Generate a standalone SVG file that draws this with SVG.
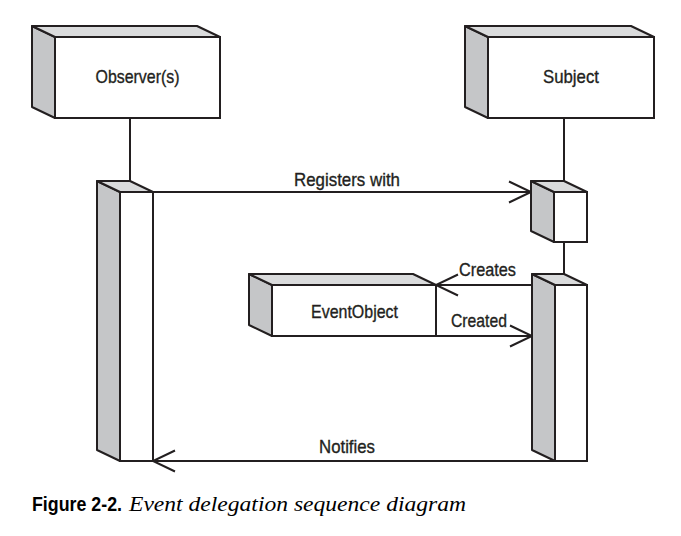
<svg xmlns="http://www.w3.org/2000/svg" width="681" height="536" viewBox="0 0 681 536">
  <style>
    .side { fill: #c5c6c8; stroke: #231f20; stroke-width: 2; stroke-linejoin: round; }
    .top { fill: #dadbdc; stroke: #231f20; stroke-width: 2; stroke-linejoin: round; }
    .front { fill: #ffffff; stroke: #231f20; stroke-width: 2; }
    .line { fill: none; stroke: #231f20; stroke-width: 2; }
    .lbl { font-family: "Liberation Sans", Arial, sans-serif; font-size: 19px; fill: #231f20; stroke: #231f20; stroke-width: 0.35; }
    .cap { font-family: "Liberation Sans", Arial, sans-serif; font-size: 20px; font-weight: bold; fill: #000; }
    .capi { font-family: "Liberation Serif", "Times New Roman", serif; font-size: 21px; font-style: italic; fill: #000; }
  </style>
  <defs>
    <marker id="open" viewBox="0 0 24 24" refX="23" refY="12" markerWidth="24" markerHeight="24" markerUnits="userSpaceOnUse" orient="auto" overflow="visible">
      <path d="M1,1.5 L23,12 L1,22.5" fill="none" stroke="#231f20" stroke-width="2"/>
    </marker>
  </defs>
  <rect x="0" y="0" width="681" height="536" fill="#ffffff"/>

  <g id="lifelines">
    <line class="line" x1="130" y1="118" x2="130" y2="181"/>
    <line class="line" x1="564" y1="118" x2="564" y2="181"/>
    <line class="line" x1="564" y1="242" x2="564" y2="274"/>
  </g>

  <g id="connectors">
    <line class="line" x1="153" y1="192" x2="531" y2="192" marker-end="url(#open)"/>
    <line class="line" x1="532" y1="285" x2="436" y2="285" marker-end="url(#open)"/>
    <line class="line" x1="436" y1="336" x2="532" y2="336" marker-end="url(#open)"/>
    <line class="line" x1="555" y1="461" x2="153" y2="461" marker-end="url(#open)"/>
    <text class="lbl" x="294" y="186" textLength="106" lengthAdjust="spacingAndGlyphs">Registers with</text>
    <text class="lbl" x="459" y="276" textLength="57" lengthAdjust="spacingAndGlyphs">Creates</text>
    <text class="lbl" x="451" y="327" textLength="56" lengthAdjust="spacingAndGlyphs">Created</text>
    <text class="lbl" x="319" y="453" textLength="56" lengthAdjust="spacingAndGlyphs">Notifies</text>
  </g>

  <g id="observer">
    <polygon class="side" points="32,26 55,37 55,118 32,107"/>
    <polygon class="top" points="32,26 197,26 220,37 55,37"/>
    <rect class="front" x="55" y="37" width="165" height="81"/>
    <text class="lbl" x="137.5" y="83" text-anchor="middle" textLength="84" lengthAdjust="spacingAndGlyphs">Observer(s)</text>
  </g>

  <g id="subject">
    <polygon class="side" points="465,26 488,37 488,118 465,107"/>
    <polygon class="top" points="465,26 631,26 654,37 488,37"/>
    <rect class="front" x="488" y="37" width="166" height="81"/>
    <text class="lbl" x="571" y="83" text-anchor="middle" textLength="56" lengthAdjust="spacingAndGlyphs">Subject</text>
  </g>

  <g id="observer-activation">
    <polygon class="side" points="97,181 120,192 120,461 97,450"/>
    <polygon class="top" points="97,181 130,181 153,192 120,192"/>
    <rect class="front" x="120" y="192" width="33" height="269"/>
  </g>

  <g id="subject-activation-1">
    <polygon class="side" points="531,181 554,192 554,242 531,231"/>
    <polygon class="top" points="531,181 564,181 587,192 554,192"/>
    <rect class="front" x="554" y="192" width="33" height="50"/>
  </g>

  <g id="subject-activation-2">
    <polygon class="side" points="532,274 555,285 555,461 532,450"/>
    <polygon class="top" points="532,274 564,274 587,285 555,285"/>
    <rect class="front" x="555" y="285" width="32" height="176"/>
  </g>

  <g id="eventobject">
    <polygon class="side" points="249,274 272,285 272,336 249,325"/>
    <polygon class="top" points="249,274 413,274 436,285 272,285"/>
    <rect class="front" x="272" y="285" width="164" height="51"/>
    <text class="lbl" x="311" y="318" textLength="87" lengthAdjust="spacingAndGlyphs">EventObject</text>
  </g>

  <g id="caption">
    <text class="cap" x="32" y="511" textLength="90" lengthAdjust="spacingAndGlyphs">Figure 2-2.</text>
    <text class="capi" x="129" y="511" textLength="337" lengthAdjust="spacingAndGlyphs">Event delegation sequence diagram</text>
  </g>
</svg>
